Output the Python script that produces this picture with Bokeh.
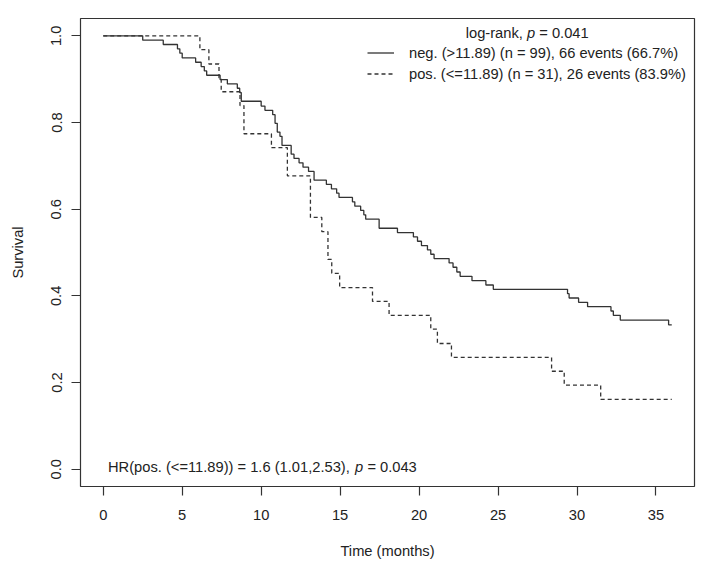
from bokeh.plotting import figure
from bokeh.models import Legend, LegendItem, Label, FixedTicker, PrintfTickFormatter
from bokeh.embed import file_html
from bokeh.resources import INLINE

# Kaplan-Meier estimates (time in months, survival)
neg_time = [0, 2.5, 3.8, 4.7, 4.85, 5.0, 5.85, 6.2, 6.4, 6.55, 7.4, 7.86, 8.49, 8.64, 8.74,
            10.0, 10.24, 10.73, 10.88, 11.02, 11.19, 11.32, 11.9, 12.08, 12.4, 12.65, 13.0,
            13.35, 14.13, 14.45, 14.78, 14.93, 15.78, 15.93, 16.3, 16.5, 16.62, 17.47, 18.63,
            19.64, 19.9, 20.15, 20.53, 20.74, 20.95, 21.9, 22.15, 22.39, 22.6, 23.35, 24.23,
            24.7, 29.4, 29.5, 30.1, 30.67, 32.15, 32.3, 32.74, 35.8, 36.0]
neg_surv = [1.0, 0.990, 0.980, 0.970, 0.960, 0.949, 0.939, 0.929, 0.919, 0.909, 0.899, 0.889,
            0.879, 0.869, 0.849, 0.838, 0.828, 0.818, 0.798, 0.778, 0.768, 0.747, 0.727, 0.717,
            0.707, 0.697, 0.687, 0.667, 0.657, 0.647, 0.637, 0.627, 0.617, 0.607, 0.597, 0.587,
            0.577, 0.556, 0.546, 0.536, 0.526, 0.516, 0.506, 0.496, 0.486, 0.476, 0.466, 0.455,
            0.445, 0.435, 0.425, 0.415, 0.405, 0.395, 0.385, 0.375, 0.365, 0.355, 0.344, 0.333,
            0.333]

pos_time = [0, 6.12, 6.69, 7.33, 7.47, 8.66, 8.91, 10.65, 11.66, 13.12, 13.84, 14.23, 14.47,
            14.97, 17.05, 18.1, 20.74, 21.16, 22.05, 28.39, 29.19, 31.5, 36.0]
pos_surv = [1.0, 0.968, 0.935, 0.903, 0.871, 0.839, 0.774, 0.742, 0.677, 0.581, 0.548, 0.484,
            0.452, 0.419, 0.387, 0.355, 0.323, 0.290, 0.258, 0.226, 0.194, 0.161, 0.161]

neg_label = "neg. (>11.89) (n = 99), 66 events (66.7%)"
pos_label = "pos. (<=11.89) (n = 31), 26 events (83.9%)"
x_ticks = [0, 5, 10, 15, 20, 25, 30, 35]
y_ticks = [0.0, 0.2, 0.4, 0.6, 0.8, 1.0]

FONT = "Liberation Sans"
FS = "14.7px"
INK = "#222222"
LINE = "#333333"
SPACE = 4.1   # width of a blank at 14.7px
P_W = 8.2     # width of the italic p

p = figure(width=699, height=566, output_backend="svg", toolbar_location=None,
           x_range=(-1.44, 37.44), y_range=(-0.04, 1.04),
           min_border_left=80, min_border_right=5, min_border_top=18, min_border_bottom=80,
           x_axis_label="Time (months)", y_axis_label="Survival")
p.grid.visible = False
p.outline_line_color = LINE
p.outline_line_width = 1.2
p.background_fill_color = "white"
p.border_fill_color = "white"

for ax in (p.xaxis[0], p.yaxis[0]):
    ax.axis_line_color = None
    ax.major_tick_line_color = LINE
    ax.major_tick_line_width = 1.2
    ax.major_tick_out = 9
    ax.major_tick_in = 0
    ax.minor_tick_line_color = None
    ax.major_label_text_font = FONT
    ax.major_label_text_font_size = FS
    ax.major_label_text_color = INK
    ax.axis_label_text_font = FONT
    ax.axis_label_text_font_size = FS
    ax.axis_label_text_font_style = "normal"
    ax.axis_label_text_color = INK

p.xaxis.ticker = FixedTicker(ticks=x_ticks)
p.yaxis.ticker = FixedTicker(ticks=y_ticks)
p.yaxis.formatter = PrintfTickFormatter(format="%.1f")
p.yaxis.major_label_orientation = "vertical"
p.xaxis.major_label_standoff = 14
p.yaxis.major_label_standoff = 10
p.xaxis.axis_label_standoff = 20
p.yaxis.axis_label_standoff = 23

r_neg = p.step(neg_time, neg_surv, mode="after", line_color=LINE, line_width=1.3)
r_pos = p.step(pos_time, pos_surv, mode="after", line_color=LINE, line_width=1.3,
               line_dash="4 3")

legend = Legend(items=[LegendItem(label=neg_label, renderers=[r_neg]),
                       LegendItem(label=pos_label, renderers=[r_pos])],
                location=(287, 402), padding=0, margin=0, spacing=0,
                glyph_width=27, glyph_height=21, label_height=21, label_standoff=15,
                label_text_font=FONT, label_text_font_size=FS, label_text_color=INK,
                background_fill_alpha=0, border_line_alpha=0)
p.add_layout(legend)

common = dict(text_font=FONT, text_font_size=FS, text_color=INK, text_baseline="middle")

# legend title, centred over the legend, with an italic p
p.add_layout(Label(x=26.83, y=1.007, x_offset=-SPACE, text="log-rank,", text_align="right", **common))
p.add_layout(Label(x=26.83, y=1.007, text="p", text_align="left", text_font_style="italic", **common))
p.add_layout(Label(x=26.83, y=1.007, x_offset=P_W + SPACE, text="= 0.041", text_align="left", **common))

# hazard ratio note in the lower left corner
hr_w = 247.1
p.add_layout(Label(x=0.3, y=0.005, text="HR(pos. (<=11.89)) = 1.6 (1.01,2.53),", text_align="left", **common))
p.add_layout(Label(x=0.3, y=0.005, x_offset=hr_w, text="p", text_align="left",
                   text_font_style="italic", **common))
p.add_layout(Label(x=0.3, y=0.005, x_offset=hr_w + P_W + SPACE, text="= 0.043", text_align="left", **common))

open("out.html", "w").write(file_html(p, INLINE))
